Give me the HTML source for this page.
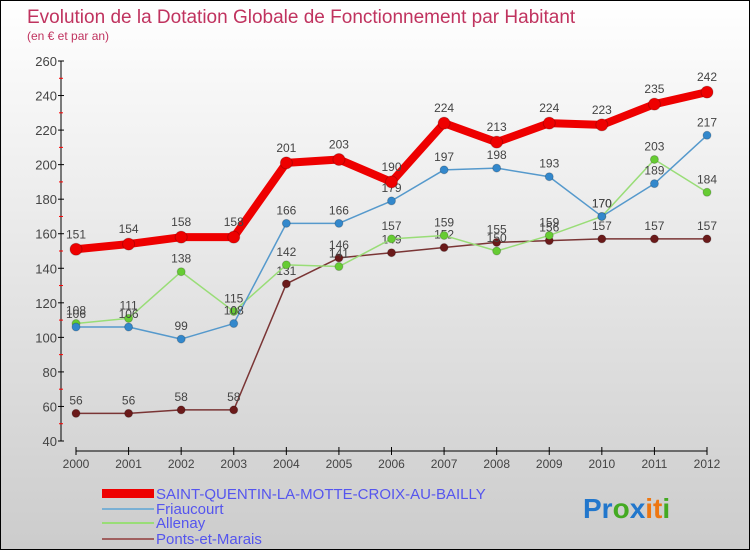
<!DOCTYPE html>
<html><head><meta charset="utf-8"><style>
body{margin:0}
#c{width:750px;height:550px;position:relative;box-sizing:border-box;border:1px solid #000;background:linear-gradient(#fff,#ccc);font-family:"Liberation Sans",sans-serif;overflow:hidden}
</style></head><body>
<div id="c">
<svg id="s" width="750" height="550" style="position:absolute;left:0;top:0">
<text x="26" y="22" font-size="19" fill="#c0335f">Evolution de la Dotation Globale de Fonctionnement par Habitant</text>
<text x="26" y="39" font-size="12" fill="#c0335f">(en € et par an)</text>
<g id="axes"></g><g id="series"></g>
<g font-size="15" fill="#5555ee">
<rect x="101" y="488" width="52" height="9" fill="#e00"/>
<text x="155" y="498">SAINT-QUENTIN-LA-MOTTE-CROIX-AU-BAILLY</text>
<rect x="101" y="507" width="52" height="2" fill="#7ab0d4"/>
<text x="155" y="513">Friaucourt</text>
<rect x="101" y="521" width="52" height="2" fill="#99dd77"/>
<text x="155" y="527">Allenay</text>
<rect x="101" y="537" width="52" height="2" fill="#a06060"/>
<text x="155" y="543">Ponts-et-Marais</text>
</g>
<g font-size="28" font-weight="bold">
<text x="582" y="517"><tspan fill="#2277cc">Pr</tspan><tspan fill="#44aa22">o</tspan><tspan fill="#2277cc">x</tspan><tspan fill="#ee7711">it</tspan><tspan fill="#44aa22">i</tspan></text>
</g>
</svg>
</div>
<script>
const years=[2000,2001,2002,2003,2004,2005,2006,2007,2008,2009,2010,2011,2012];
const yTicks=[40,60,80,100,120,140,160,180,200,220,240,260];
const sq=[151,154,158,158,201,203,190,224,213,224,223,235,242];
const fr=[106,106,99,108,166,166,179,197,198,193,170,189,217];
const al=[108,111,138,115,142,141,157,159,150,159,170,203,184];
const po=[56,56,58,58,131,146,149,152,155,156,157,157,157];
const NS="http://www.w3.org/2000/svg";
const X=i=>75+i*(631/12), Y=v=>60+(260-v)*380/220;
function mk(t,a,p){const e=document.createElementNS(NS,t);for(const k in a)e.setAttribute(k,a[k]);p.appendChild(e);return e;}
const ax=document.getElementById('axes'), sg=document.getElementById('series');
let l=mk('line',{x1:60,y1:60,x2:60,y2:440,stroke:'#000'},ax);


l=mk('line',{x1:75,y1:450,x2:706,y2:450,stroke:'#000'},ax);


yTicks.forEach((v,i)=>{mk('line',{x1:57,x2:63,y1:Y(v),y2:Y(v),stroke:'#000'},ax);
 if(i<yTicks.length-1)mk('line',{x1:58,x2:62,y1:Y(v+10),y2:Y(v+10),stroke:'#f00'},ax);
 const t=mk('text',{x:56,y:Y(v)+5,'text-anchor':'end','font-size':13,fill:'#444'},ax);t.textContent=v;
 
 });
years.forEach((y,i)=>{mk('line',{x1:X(i),x2:X(i),y1:446,y2:454,stroke:'#000'},ax);
 const t=mk('text',{x:X(i),y:467,'text-anchor':'middle','font-size':12,fill:'#444'},ax);t.textContent=y;
 
 });
function series(d,name,col,w,dot,r){
 const g=mk('g',{},sg);
 
 
 mk('polyline',{points:d.map((v,i)=>X(i)+','+Y(v)).join(' '),fill:'none',stroke:col,'stroke-width':w,'stroke-linejoin':'round'},g);
 d.forEach((v,i)=>{const c=mk('circle',{cx:X(i),cy:Y(v),r:r,fill:dot,stroke:'#0003'},g);
  
  
  const t=mk('text',{x:X(i),y:Y(v)-(r+5),'text-anchor':'middle','font-size':12,fill:'#444'},g);t.textContent=v;});
}
series(po,'ponts','#7a3535',1.5,'#6b1a1a',4);
series(al,'allenay','#99dd77',1.5,'#66cc33',4);
series(fr,'friaucourt','#5599cc',1.5,'#3388cc',4);
series(sq,'saint-quentin','#ee0000',8,'#ee0000',6);
</script>
</body></html>
